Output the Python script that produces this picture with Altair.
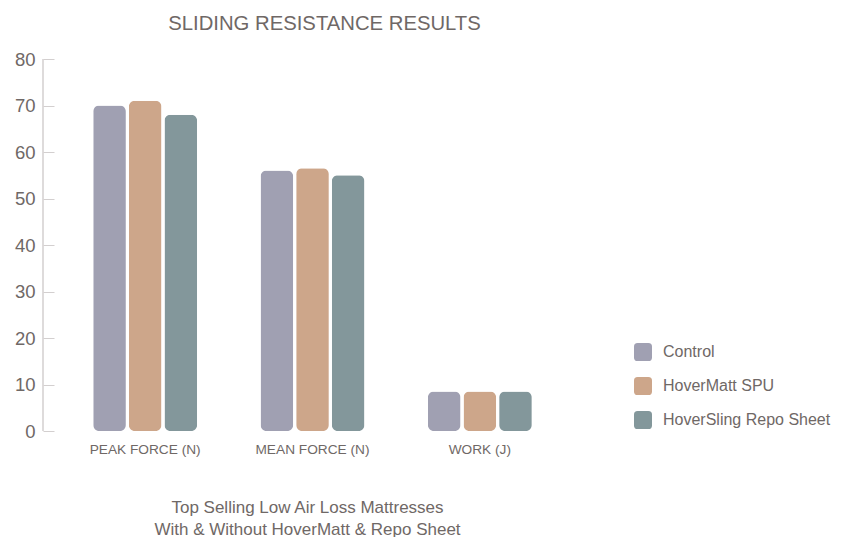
import altair as alt
import pandas as pd

categories = ["PEAK FORCE (N)", "MEAN FORCE (N)", "WORK (J)"]
series = ["Control", "HoverMatt SPU", "HoverSling Repo Sheet"]
control = [70, 56, 8.5]
hovermatt = [71, 56.5, 8.5]
hoversling = [68, 55, 8.5]
y_ticks = [0, 10, 20, 30, 40, 50, 60, 70, 80]
colors = ["#a0a0b2", "#cda68a", "#83979b"]

rows = []
for i, c in enumerate(categories):
    for s, vals in zip(series, [control, hovermatt, hoversling]):
        rows.append({"category": c, "series": s, "value": vals[i]})
df = pd.DataFrame(rows)

FONT = "Liberation Sans"
TXT = "#6f6866"
LINE = "#d3cfcf"
W, H = 539, 372

rounded = ("M-1,-0.6 Q-1,-1 -0.6,-1 L0.6,-1 Q1,-1 1,-0.6 L1,0.6 Q1,1 0.6,1 "
           "L-0.6,1 Q-1,1 -1,0.6 Z")

bars = alt.Chart(df).mark_bar(cornerRadius=6).encode(
    x=alt.X("category:N", sort=categories,
            scale=alt.Scale(paddingInner=0.379, paddingOuter=0.3),
            axis=alt.Axis(title=["Top Selling Low Air Loss Mattresses",
                                 "With & Without HoverMatt & Repo Sheet"],
                          labelAngle=0, domain=False, ticks=False,
                          labelPadding=11, labelFontSize=13.7, labelColor=TXT,
                          labelFont=FONT, titleFont=FONT, titleFontSize=17,
                          titleFontWeight="normal", titleColor=TXT,
                          titleLineHeight=22, titlePadding=44, titleX=264)),
    xOffset=alt.XOffset("series:N", sort=series,
                        scale=alt.Scale(paddingInner=0.083)),
    y=alt.Y("value:Q", scale=alt.Scale(domain=[0, 80]),
            axis=alt.Axis(title=None, values=y_ticks, grid=False, domain=False,
                          ticks=True, tickSize=11, tickColor=LINE, offset=-11,
                          labelPadding=8, labelFontSize=18.5, labelColor=TXT,
                          labelFont=FONT)),
    color=alt.Color("series:N", sort=series,
                    scale=alt.Scale(domain=series, range=colors),
                    legend=alt.Legend(title=None, orient="none", legendX=591,
                                      legendY=284, symbolType=rounded,
                                      symbolSize=324, symbolStrokeWidth=0,
                                      labelFont=FONT, labelFontSize=16,
                                      labelColor=TXT, rowPadding=16,
                                      labelOffset=11, labelLimit=400)),
)

domain_line = alt.Chart(pd.DataFrame({"a": [0]})).mark_rule(
    color=LINE, strokeWidth=1.5
).encode(x=alt.value(0), y=alt.value(0), y2=alt.value(H))

chart = alt.layer(bars, domain_line).properties(
    width=W, height=H,
    title=alt.TitleParams("SLIDING RESISTANCE RESULTS", font=FONT, fontSize=20.3,
                          fontWeight="normal", color=TXT, anchor="middle",
                          dx=12, offset=16),
    autosize=alt.AutoSizeParams(type="none"),
    padding={"left": 35, "top": 51, "right": 255, "bottom": 106},
).configure_view(stroke=None)

chart.save("out.html", embed_options={"renderer": "svg", "actions": False})
